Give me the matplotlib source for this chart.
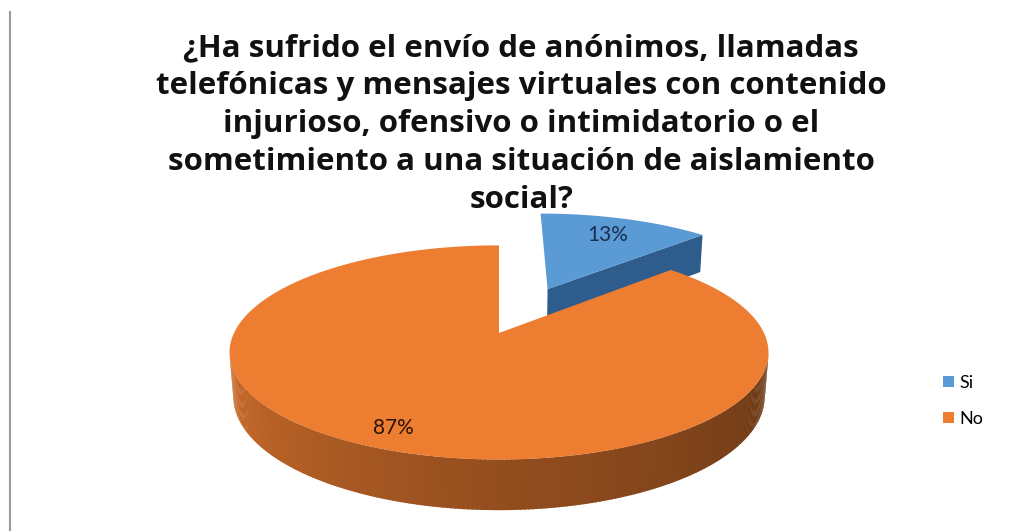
import numpy as np
import matplotlib.pyplot as plt
from matplotlib.patches import Polygon, Patch
from matplotlib.lines import Line2D

labels = ['Si', 'No']
shares = [13, 87]
top_colors = ['#5B9BD5', '#ED7D31']
edge_colors = ['#2E5C8C', '#A0521C']
explode = [0.5, 0.0]
label_radius = [0.75, 0.86]
label_colors = ['#1B2F52', '#2B1506']

title = ('¿Ha sufrido el envío de anónimos, llamadas\n'
         'telefónicas y mensajes virtuales con contenido\n'
         'injurioso, ofensivo o intimidatorio o el\n'
         'sometimiento a una situación de aislamiento\n'
         'social?')

W, H = 1026, 531

# simple perspective camera for the tilted pie disc
ELEV = np.radians(23)
DIST = 5.07
SCALE = 265
CX, CY = 499, 333
THICK = 0.18


def project(x, y, z):
    s, c = np.sin(ELEV), np.cos(ELEV)
    v = y * s + z * c
    w = y * c - z * s
    f = DIST / (DIST + w)
    return CX + SCALE * x * f, CY - SCALE * v * f


def shade(hex_color, k):
    rgb = np.array([int(hex_color[i:i + 2], 16) for i in (1, 3, 5)]) / 255
    return tuple(np.clip(rgb * k, 0, 1))


fig = plt.figure(figsize=(W / 100, H / 100), dpi=100)
ax = fig.add_axes([0, 0, 1, 1])
ax.set_xlim(0, W)
ax.set_ylim(H, 0)
ax.axis('off')

# slice angles: start at 12 o'clock, go clockwise
bounds = 90 - 360 * np.concatenate([[0], np.cumsum(shares)]) / sum(shares)
slices = []
for i in range(len(shares)):
    t0, t1 = bounds[i], bounds[i + 1]
    mid = np.radians((t0 + t1) / 2)
    ox, oy = explode[i] * np.cos(mid), explode[i] * np.sin(mid)
    slices.append((t0, t1, mid, ox, oy))

# the camera sees the rim where sin(t) < -1/(DIST*cos(ELEV))
lim = np.degrees(np.arcsin(1 / (DIST * np.cos(ELEV))))
vis_lo, vis_hi = 180 + lim - 1, 360 - lim + 1

for i in [0, 1]:  # back slice first
    t0, t1, mid, ox, oy = slices[i]
    base = top_colors[i]

    # radial face on the clockwise edge of the small slice
    if i == 0:
        r = np.radians(t1)
        xs = np.array([ox, ox + np.cos(r), ox + np.cos(r), ox])
        ys = np.array([oy, oy + np.sin(r), oy + np.sin(r), oy])
        zs = np.array([0, 0, -THICK, -THICK])
        px, py = project(xs, ys, zs)
        ax.add_patch(Polygon(np.c_[px, py], closed=True,
                             facecolor=edge_colors[i], edgecolor='none'))

    # outer rim, split into thin strips for shading
    lo, hi = sorted([t0, t1])
    ts = np.linspace(lo, hi, 400)
    for a, b in zip(ts[:-1], ts[1:]):
        am = np.mod(a, 360)
        if not (vis_lo <= am <= vis_hi):
            continue
        k = np.interp(am, [vis_lo, 270, vis_hi], [0.86, 0.62, 0.45])
        ta = np.radians([a, b + 0.3, b + 0.3, a])
        zs = np.array([0, 0, -THICK, -THICK])
        px, py = project(ox + np.cos(ta), oy + np.sin(ta), zs)
        ax.add_patch(Polygon(np.c_[px, py], closed=True,
                             facecolor=shade(base, k), edgecolor='none'))

    # top surface
    ta = np.radians(np.linspace(t0, t1, 300))
    xs = np.concatenate([[ox], ox + np.cos(ta)])
    ys = np.concatenate([[oy], oy + np.sin(ta)])
    px, py = project(xs, ys, np.zeros_like(xs))
    ax.add_patch(Polygon(np.c_[px, py], closed=True,
                         facecolor=base, edgecolor='none'))

# percentage labels
for i in range(len(shares)):
    t0, t1, mid, ox, oy = slices[i]
    rl = label_radius[i]
    lx, ly = project(ox + rl * np.cos(mid), oy + rl * np.sin(mid), 0.0)
    pct = 100 * shares[i] / sum(shares)
    ax.text(lx, ly, f'{pct:.0f}%', ha='center', va='center',
            fontsize=15, family='Lato', color=label_colors[i])

# title
fig.text(0.508, 1 - 33 / H, title, ha='center', va='top',
         fontsize=22.5, fontweight='bold', family='Open Sans',
         linespacing=1.35, color='#111111')

# legend
handles = [Patch(facecolor=c, edgecolor='none') for c in top_colors]
ax.legend(handles, labels, loc='center left',
          bbox_to_anchor=(927 / W, 1 - 401 / H), frameon=False,
          handlelength=0.6, handleheight=0.6,
          handletextpad=0.3, labelspacing=1.1,
          prop={'family': 'Lato', 'size': 13})

# left border of the chart frame
fig.add_artist(Line2D([9.5 / W, 9.5 / W], [0, 1 - 12 / H],
                      transform=fig.transFigure, color='#9A9A9A', lw=1.5))

fig.savefig('out.png', dpi=100, facecolor='white')
